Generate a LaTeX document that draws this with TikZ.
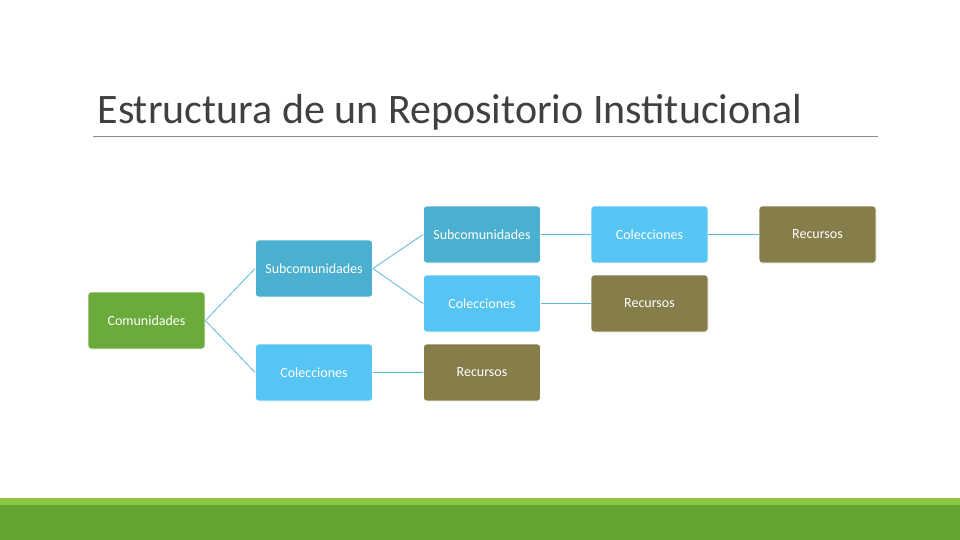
\documentclass[tikz,border=0pt]{standalone}
\usepackage{fontspec}
\setmainfont{Carlito}
\definecolor{grn}{HTML}{6AAB3B}
\definecolor{sub}{HTML}{4BB0CF}
\definecolor{col}{HTML}{56C5F3}
\definecolor{rec}{HTML}{857D4A}
\definecolor{ln}{HTML}{5BB8D8}
\definecolor{barA}{HTML}{8DC63F}
\definecolor{barB}{HTML}{63A532}
\begin{document}
\begin{tikzpicture}[x=1pt,y=-1pt,
  box/.style={draw=white,line width=0.8pt,rounded corners=3pt,minimum width=117pt,minimum height=57pt,font=\fontsize{14}{16}\selectfont,text=white,inner sep=0pt},
  conn/.style={draw=ln,line width=0.8pt}]
\useasboundingbox (0,0) rectangle (960,540);
\node[anchor=base west,font=\fontsize{42}{48}\selectfont,text=black!75] (title) at (94,124) {Estructura de un Repositorio Institucional};
\draw[black!45,line width=0.7pt] (93,136) -- (878,136);
\node[box,fill=grn] (com) at (146.5,320.5) {Comunidades};
\node[box,fill=sub] (s2) at (314,268.5) {Subcomunidades};
\node[box,fill=col] (c2) at (314,372.5) {Colecciones};
\node[box,fill=sub] (s3) at (482,234.5) {Subcomunidades};
\node[box,fill=col] (c3) at (482,303.5) {Colecciones};
\node[box,fill=rec] (r3) at (482,372.5) {Recursos};
\node[box,fill=col] (c4) at (649.5,234.5) {Colecciones};
\node[box,fill=rec] (r4) at (649.5,303.5) {Recursos};
\node[box,fill=rec] (r5) at (817.5,234.5) {Recursos};
\draw[conn] (com.east) -- (s2.west);
\draw[conn] (com.east) -- (c2.west);
\draw[conn] (s2.east) -- (s3.west);
\draw[conn] (s2.east) -- (c3.west);
\draw[conn] (c2) -- (r3);
\draw[conn] (s3) -- (c4);
\draw[conn] (c3) -- (r4);
\draw[conn] (c4) -- (r5);
\fill[barA] (0,498) rectangle (960,505);
\fill[barB] (0,505) rectangle (960,540);
\end{tikzpicture}
\end{document}
